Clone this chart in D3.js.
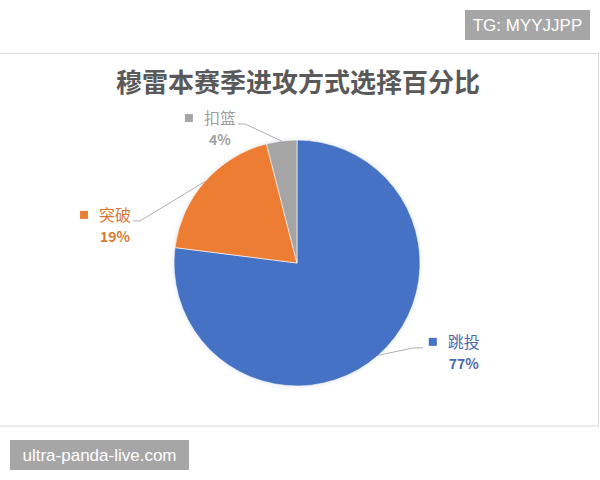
<!DOCTYPE html>
<html>
<head>
<meta charset="utf-8">
<script src="https://cdn.jsdelivr.net/npm/d3@7"></script>
<style>
  body { margin: 0; background: #fff; }
  svg { display: block; }
</style>
</head>
<body>
<svg id="chart"></svg>
<script>
const categories = ["跳投", "突破", "扣篮"];
const values = [77, 19, 4];
const percentLabels = ["77%", "19%", "4%"];
const colors = ["#4472C4", "#ED7D31", "#A5A5A5"];
const labelColors = ["#4A6AAE", "#D9782F", "#A0A0A0"];

const width = 600;
const height = 480;
const cx = 297;
const cy = 263;
const radius = 123;
const font = "'Noto Sans CJK SC', 'Microsoft YaHei', sans-serif";

// label placement (angle in degrees clockwise from top, distance as radius factor)
const labelPlace = [[115.3, 1.5], [284.8, 1.53], [332, 1.335]];

const svg = d3.select("#chart").attr("width", width).attr("height", height);

// chart frame
svg.append("rect")
  .attr("x", -1).attr("y", 53.5)
  .attr("width", 599.5).attr("height", 372.5)
  .attr("fill", "#fff")
  .attr("stroke", "#D9D9D9");

svg.append("text")
  .attr("x", 298).attr("y", 92)
  .attr("text-anchor", "middle")
  .style("font-family", font)
  .style("font-size", "26px")
  .style("font-weight", "bold")
  .attr("fill", "#595959")
  .text("穆雷本赛季进攻方式选择百分比");

const defs = svg.append("defs");
const glow = defs.append("filter").attr("id", "soft")
  .attr("x", "-20%").attr("y", "-20%").attr("width", "140%").attr("height", "140%");
glow.append("feGaussianBlur").attr("in", "SourceAlpha").attr("stdDeviation", 2).attr("result", "b");
glow.append("feFlood").attr("flood-color", "#9fb3d9").attr("flood-opacity", 0.35);
glow.append("feComposite").attr("in2", "b").attr("operator", "in").attr("result", "s");
const merge = glow.append("feMerge");
merge.append("feMergeNode").attr("in", "s");
merge.append("feMergeNode").attr("in", "SourceGraphic");

const pie = d3.pie().sort(null).value(d => d)(values);
const arc = d3.arc().innerRadius(0).outerRadius(radius);

const g = svg.append("g").attr("transform", `translate(${cx},${cy})`);

g.append("g").attr("filter", "url(#soft)")
  .selectAll("path")
  .data(pie)
  .enter()
  .append("path")
  .attr("d", arc)
  .attr("fill", (d, i) => colors[i])
  .attr("stroke", "#fff")
  .attr("stroke-width", 0.6);

const rad = a => a * Math.PI / 180;

pie.forEach((d, i) => {
  const [ang, f] = labelPlace[i];
  const lx = Math.sin(rad(ang)) * radius * f;
  const ly = -Math.cos(rad(ang)) * radius * f;
  const mid = (d.startAngle + d.endAngle) / 2;
  const ex = Math.sin(mid) * radius;
  const ey = -Math.cos(mid) * radius;

  const nameW = 34;
  const left = lx < 0;

  // leader line
  let sx, hx;
  if (left) {
    sx = lx + nameW / 2 + 1;
    hx = sx + 7;
  } else {
    sx = lx - nameW / 2 - 24;
    hx = sx - 9;
  }
  const sy = ly + 6;
  g.append("path")
    .attr("d", `M${sx},${sy}L${hx},${sy}L${ex},${ey}`)
    .attr("fill", "none")
    .attr("stroke", "#A6A6A6")
    .attr("stroke-width", 0.9);

  g.append("rect")
    .attr("x", lx - nameW / 2 - 18)
    .attr("y", ly - 4)
    .attr("width", 8).attr("height", 8)
    .attr("fill", colors[i]);

  g.append("text")
    .attr("x", lx).attr("y", ly + 6)
    .attr("text-anchor", "middle")
    .style("font-family", font)
    .style("font-size", "16px")
    .attr("fill", labelColors[i])
    .text(categories[i]);

  g.append("text")
    .attr("x", lx).attr("y", ly + 27)
    .attr("text-anchor", "middle")
    .style("font-family", font)
    .style("font-size", "14px")
    .style("font-weight", "bold")
    .attr("fill", labelColors[i])
    .text(percentLabels[i]);
});

// watermarks
svg.append("rect").attr("x", 465).attr("y", 10).attr("width", 125).attr("height", 30).attr("fill", "#A6A6A6");
svg.append("text").attr("x", 527.5).attr("y", 31).attr("text-anchor", "middle")
  .style("font-family", "'Liberation Sans', Arial, sans-serif").style("font-size", "17px")
  .attr("fill", "#fff").text("TG: MYYJJPP");

svg.append("rect").attr("x", 10).attr("y", 440).attr("width", 179).attr("height", 30).attr("fill", "#A6A6A6");
svg.append("text").attr("x", 99.5).attr("y", 461).attr("text-anchor", "middle")
  .style("font-family", "'Liberation Sans', Arial, sans-serif").style("font-size", "17px")
  .attr("fill", "#fff").text("ultra-panda-live.com");
</script>
</body>
</html>
